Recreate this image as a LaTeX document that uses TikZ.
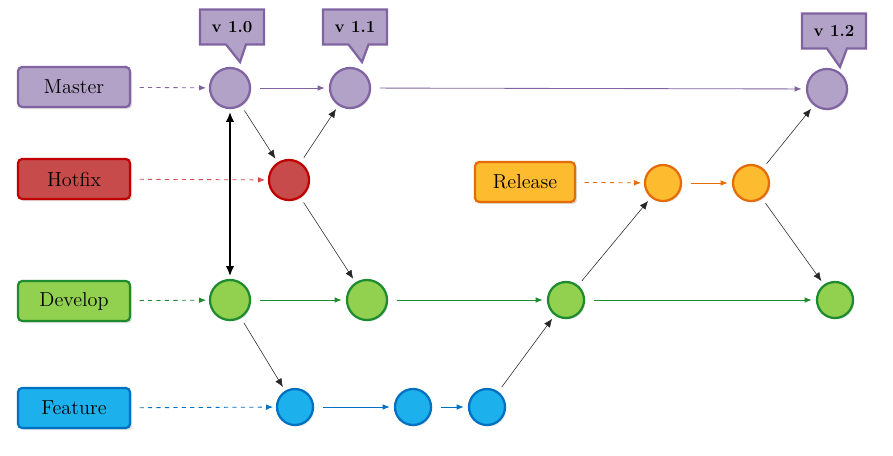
\documentclass[tikz,border=0pt]{standalone}
\usepackage{tikz}
\usetikzlibrary{positioning,arrows.meta,shapes.callouts,shadows}
\definecolor{masterfill}{HTML}{B3A2C7}
\definecolor{masterline}{HTML}{8064A2}
\definecolor{hotfixfill}{HTML}{C84B4B}
\definecolor{hotfixline}{HTML}{C00000}
\definecolor{releasefill}{HTML}{FDBB2F}
\definecolor{releaseline}{HTML}{E46C0A}
\definecolor{developfill}{HTML}{92D050}
\definecolor{developline}{HTML}{1E8C2E}
\definecolor{featurefill}{HTML}{1CB0EC}
\definecolor{featureline}{HTML}{0070C0}
\tikzset{
	git flow/.style={
		x=0.025cm,
		y=-0.025cm,
		font=\Large,
		every shadow/.style={opacity=0.25}
	},
	branch label/.style={
		rectangle,
		rounded corners=3pt,
		draw,
		line width=1.6pt,
		minimum width=2.8cm,
		minimum height=1cm,
		drop shadow={shadow xshift=1.5pt,shadow yshift=-1.5pt}
	},
	commit/.style={
		circle,
		draw,
		line width=1.6pt,
		inner sep=0pt,
		minimum size=1cm,
		drop shadow={shadow xshift=1pt,shadow yshift=-1pt}
	},
	small commit/.style={
		commit,
		minimum size=0.9cm
	},
	tag/.style={% version tag above a master commit
		rectangle callout,
		draw=masterline,
		fill=masterfill,
		line width=1.6pt,
		font=\large\bfseries,
		minimum width=1.6cm,
		minimum height=0.875cm,
		callout pointer width=0.5cm
	},
	master/.style={fill=masterfill,draw=masterline},
	hotfix/.style={fill=hotfixfill,draw=hotfixline},
	release/.style={fill=releasefill,draw=releaseline},
	develop/.style={fill=developfill,draw=developline},
	feature/.style={fill=featurefill,draw=featureline},
	start edge/.style={
		dashed,
		semithick,
		-{Latex[length=5pt,width=4pt]},
		shorten <=6pt,
		shorten >=2pt
	},
	flow edge/.style={
		semithick,
		-{Latex[length=5pt,width=4pt]},
		shorten <=6pt,
		shorten >=3pt
	},
	merge edge/.style={
		thin,
		black!85,
		-{Latex[length=6pt,width=5pt]},
		shorten <=4pt,
		shorten >=3pt
	}
}
\begin{document}
\begin{tikzpicture}[git flow]
	\useasboundingbox (0,0) rectangle (893,455);
	% branch labels
	\node[branch label,master] (master) at (74,87) {Master};
	\node[branch label,hotfix] (hotfix) at (74,179) {Hotfix};
	\node[branch label,develop] (develop) at (74,301) {Develop};
	\node[branch label,feature] (feature) at (74,408) {Feature};
	\node[branch label,release,minimum width=2.5cm] (release) at (525,182) {Release};
	% commits
	\node[commit,master] (m1) at (230,88) {};
	\node[commit,master] (m2) at (350,88) {};
	\node[commit,master] (m3) at (827,89) {};
	\node[commit,hotfix] (h1) at (289,180) {};
	\node[small commit,release] (r1) at (663,183) {};
	\node[small commit,release] (r2) at (751,183) {};
	\node[commit,develop] (d1) at (230,300) {};
	\node[commit,develop] (d2) at (367,300) {};
	\node[small commit,develop] (d3) at (566,300) {};
	\node[small commit,develop] (d4) at (835,300) {};
	\node[small commit,feature] (f1) at (295,407) {};
	\node[small commit,feature] (f2) at (413,407) {};
	\node[small commit,feature] (f3) at (487,407) {};
	% tags
	\node[tag,callout absolute pointer={(240,62)}] (v10) at (232,27) {v 1.0};
	\node[tag,callout absolute pointer={(362,62)}] (v11) at (355,27) {v 1.1};
	\node[tag,callout absolute pointer={(840,67)}] (v12) at (834,31) {v 1.2};
	% branch starts
	\draw[start edge,masterline] (master) -- (m1);
	\draw[start edge,hotfixline!70] (hotfix) -- (h1);
	\draw[start edge,releaseline] (release) -- (r1);
	\draw[start edge,developline] (develop) -- (d1);
	\draw[start edge,featureline] (feature) -- (f1);
	% branch flow
	\draw[flow edge,masterline] (m1) -- (m2);
	\draw[flow edge,masterline] (m2) -- (m3);
	\draw[flow edge,releaseline] (r1) -- (r2);
	\draw[flow edge,developline] (d1) -- (d2);
	\draw[flow edge,developline] (d2) -- (d3);
	\draw[flow edge,developline] (d3) -- (d4);
	\draw[flow edge,featureline] (f1) -- (f2);
	\draw[flow edge,featureline] (f2) -- (f3);
	% merges
	\draw[merge edge] (m1) -- (h1);
	\draw[merge edge] (h1) -- (m2);
	\draw[merge edge] (h1) -- (d2);
	\draw[merge edge] (d1) -- (f1);
	\draw[merge edge] (f3) -- (d3);
	\draw[merge edge] (d3) -- (r1);
	\draw[merge edge] (r2) -- (m3);
	\draw[merge edge] (r2) -- (d4);
	\draw[very thick,{Latex[length=7pt,width=6pt]}-{Latex[length=7pt,width=6pt]},shorten <=2pt,shorten >=2pt] (m1) -- (d1);
\end{tikzpicture}
\end{document}
